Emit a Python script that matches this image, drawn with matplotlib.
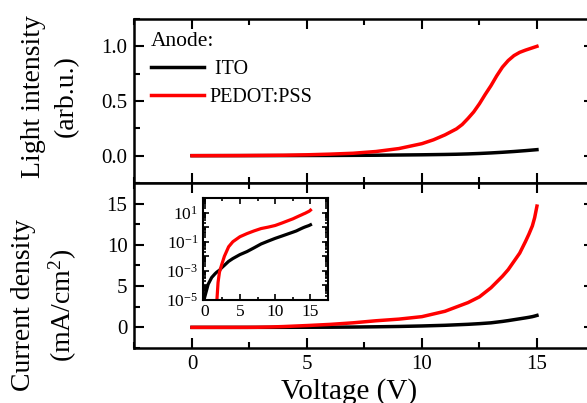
import matplotlib
matplotlib.use("Agg")
import matplotlib.pyplot as plt
from matplotlib.ticker import MultipleLocator, LogLocator, FixedLocator, NullFormatter

plt.rcParams['font.family'] = ['Liberation Serif', 'DejaVu Serif']
plt.rcParams['mathtext.fontset'] = 'custom'
plt.rcParams['mathtext.rm'] = 'Liberation Serif'
plt.rcParams['mathtext.it'] = 'Liberation Serif:italic'

# voltage (V) for the light intensity curves
volt_L = [0, 2, 4, 5, 6, 7, 8, 9, 10, 10.5, 11, 11.5, 11.75, 12, 12.25, 12.5, 12.75, 13,
          13.25, 13.5, 13.75, 14, 14.25, 14.5, 15]
light_ito = [0, 0.0005, 0.001, 0.0015, 0.002, 0.003, 0.004, 0.006, 0.008, 0.0095, 0.011,
             0.013, 0.0145, 0.016, 0.018, 0.02, 0.0225, 0.025, 0.028, 0.031, 0.0345,
             0.038, 0.042, 0.046, 0.055]
light_pedot = [0, 0.001, 0.004, 0.008, 0.014, 0.022, 0.038, 0.065, 0.11, 0.145, 0.19,
               0.245, 0.285, 0.34, 0.40, 0.475, 0.56, 0.64, 0.73, 0.81, 0.87, 0.915,
               0.945, 0.965, 1.0]

# voltage (V) for the current density curves
volt_J = [0, 0.5, 1.0, 1.5, 1.7, 1.9, 2.1, 2.4, 2.8, 3.4, 4.0, 5.0, 6.0, 7.0, 8.0, 9.0,
          10.0, 11.0, 12.0, 12.5, 13.0, 13.5, 13.75, 14.0, 14.25, 14.5, 14.65, 14.8,
          14.9, 15.0]
j_ito = [1.5e-5, 1.2e-4, 3.5e-4, 6.5e-4, 8e-4, 9.5e-4, 1.1e-3, 1.6e-3, 2.4e-3, 4.5e-3,
         7e-3, 1.3e-2, 2.1e-2, 3.8e-2, 0.07, 0.11, 0.17, 0.25, 0.37, 0.45, 0.55, 0.72,
         0.82, 0.93, 1.04, 1.15, 1.22, 1.3, 1.37, 1.45]
j_pedot = [1e-8, 1e-8, 1e-8, 1e-8, 5e-6, 1.6e-4, 8e-4, 2.5e-3, 1e-2, 4.5e-2, 0.1, 0.22,
           0.36, 0.55, 0.8, 1.0, 1.3, 1.95, 3.0, 3.7, 4.8, 6.2, 7.0, 8.0, 9.0, 10.4,
           11.3, 12.3, 13.3, 14.7]

labels = [" ITO", "PEDOT:PSS"]
colors = ["black", "red"]
lw = 2.5

fig = plt.figure(figsize=(5.87, 4.03), dpi=100)
ax1 = fig.add_axes([0.2291, 0.5459, 0.7836, 0.4070])
ax2 = fig.add_axes([0.2291, 0.1365, 0.7836, 0.4094])

for ax in (ax1, ax2):
    ax.set_xlim(-2.5, 17.5)
    ax.xaxis.set_major_locator(MultipleLocator(5))
    ax.xaxis.set_minor_locator(MultipleLocator(2.5))
    ax.tick_params(which='both', direction='in', top=True, right=True,
                   labelsize=15, width=1.5)
    ax.tick_params(which='major', length=7, pad=5)
    ax.tick_params(which='minor', length=4)
    for s in ax.spines.values():
        s.set_linewidth(1.8)

# top panel: light intensity
ax1.plot(volt_L, light_ito, color=colors[0], lw=lw, label=labels[0])
ax1.plot(volt_L, light_pedot, color=colors[1], lw=lw, label=labels[1])
ax1.set_ylim(-0.25, 1.25)
ax1.yaxis.set_major_locator(MultipleLocator(0.5))
ax1.yaxis.set_minor_locator(MultipleLocator(0.25))
ax1.yaxis.set_major_formatter(matplotlib.ticker.FormatStrFormatter('%.1f'))
ax1.tick_params(labelbottom=False)
ax1.set_ylabel("Light intensity\n(arb.u.)", fontsize=20, linespacing=1.45)
ax1.yaxis.set_label_coords(-0.12, 0.53)
leg = ax1.legend(loc='upper left', bbox_to_anchor=(0.01, 0.995), frameon=False,
                 title="Anode:", fontsize=14.5, title_fontsize=15.5, handlelength=2.6,
                 handletextpad=0.3, labelspacing=0.45, borderpad=0.1,
                 alignment='left')

# bottom panel: current density
ax2.plot(volt_J, j_ito, color=colors[0], lw=lw)
ax2.plot(volt_J, j_pedot, color=colors[1], lw=lw)
ax2.set_ylim(-2.5, 17.5)
ax2.yaxis.set_major_locator(MultipleLocator(5))
ax2.yaxis.set_minor_locator(MultipleLocator(2.5))
ax2.set_ylabel("Current density\n(mA/cm$^2$)", fontsize=20, linespacing=1.45)
ax2.yaxis.set_label_coords(-0.12, 0.26)
ax2.set_xlabel("Voltage (V)", fontsize=21)
ax2.xaxis.set_label_coords(0.466, -0.18)

# inset: log scale current density
ins = fig.add_axes([0.3450, 0.2556, 0.2140, 0.2531])
ins.plot(volt_J, j_ito, color=colors[0], lw=2.3)
ins.plot(volt_J, j_pedot, color=colors[1], lw=2.3)
ins.set_yscale('log')
ins.set_xlim(-0.3, 17.5)
ins.set_ylim(1e-5, 1e2)
ins.xaxis.set_major_locator(MultipleLocator(5))
ins.xaxis.set_minor_locator(MultipleLocator(2.5))
ins.yaxis.set_major_locator(FixedLocator([1e-5, 1e-4, 1e-3, 1e-2, 1e-1, 1, 10, 100]))
ins.yaxis.set_minor_locator(LogLocator(base=10, subs=range(2, 10), numticks=20))
ins.yaxis.set_minor_formatter(NullFormatter())
inset_labels = {-5: "$10^{-5}$", -3: "$10^{-3}$", -1: "$10^{-1}$", 1: "$10^{1}$"}


def inset_fmt(v, p):
    import math
    e = int(round(math.log10(v)))
    return inset_labels.get(e, "")


ins.yaxis.set_major_formatter(matplotlib.ticker.FuncFormatter(inset_fmt))
ins.tick_params(which='both', direction='in', top=True, right=True, labelsize=12.5,
                width=1.2, pad=3)
ins.tick_params(which='major', length=4)
ins.tick_params(which='minor', length=2)
for s in ins.spines.values():
    s.set_linewidth(1.5)

fig.savefig("out.png", dpi=100)
